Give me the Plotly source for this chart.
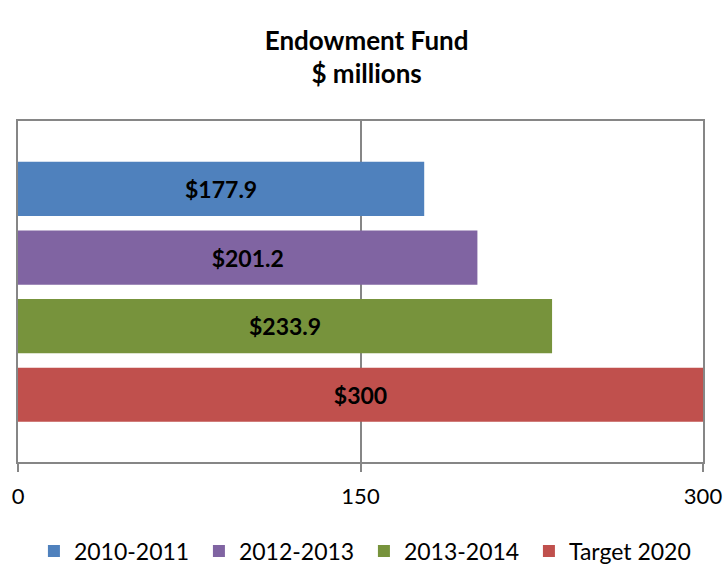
import plotly.graph_objects as go

# Endowment fund by period, in $ millions
series = ["2010-2011", "2012-2013", "2013-2014", "Target 2020"]
values = [177.9, 201.2, 233.9, 300]
colors = ["#4F81BD", "#8064A2", "#77933C", "#C0504D"]
x_ticks = [0, 150, 300]

FONT = "Lato, 'Open Sans', sans-serif"

fig = go.Figure()
for name, val, col in zip(series, values, colors):
    fig.add_trace(go.Bar(
        x=[val], y=[name], name=name, orientation="h",
        marker=dict(color=col, line=dict(width=0)),
        width=0.79,
        text=[f"${val:g}"], textposition="inside", insidetextanchor="middle",
        textfont=dict(family=FONT, size=23, color="black", weight="bold"),
        cliponaxis=False,
    ))

fig.update_layout(
    width=726, height=564,
    margin=dict(l=18, r=23, t=121, b=102, autoexpand=False),
    paper_bgcolor="white", plot_bgcolor="white",
    title=dict(
        text="<b>Endowment Fund<br>$ millions</b>",
        x=0.505, xanchor="center", y=0.912, yanchor="top",
        font=dict(family=FONT, size=26, color="black"),
    ),
    barmode="overlay",
    showlegend=True,
    legend=dict(
        orientation="h", x=0.505, xanchor="center",
        yref="container", y=0.023, yanchor="middle",
        font=dict(family=FONT, size=23, color="black"),
        entrywidth=120, entrywidthmode="pixels",
        traceorder="normal", itemclick=False,
    ),
    uniformtext=dict(mode="show", minsize=10),
)

fig.update_xaxes(
    range=[0, 300], tickvals=x_ticks, ticktext=[str(t) for t in x_ticks],
    showgrid=True, gridcolor="#868686", gridwidth=1.5,
    showline=True, linecolor="#868686", linewidth=2, mirror=True,
    ticks="outside", ticklen=8, tickcolor="#868686", tickwidth=1.5,
    ticklabelstandoff=6,
    tickfont=dict(family=FONT, size=22, color="black"),
    zeroline=False, fixedrange=True, automargin=False,
)
fig.update_yaxes(
    type="category", categoryorder="array", categoryarray=series[::-1],
    range=[-0.98, 3.99], showticklabels=False, ticks="",
    showgrid=False, showline=True, linecolor="#868686", linewidth=2, mirror=True,
    zeroline=False, fixedrange=True, automargin=False,
)

fig.write_html("out.html")
